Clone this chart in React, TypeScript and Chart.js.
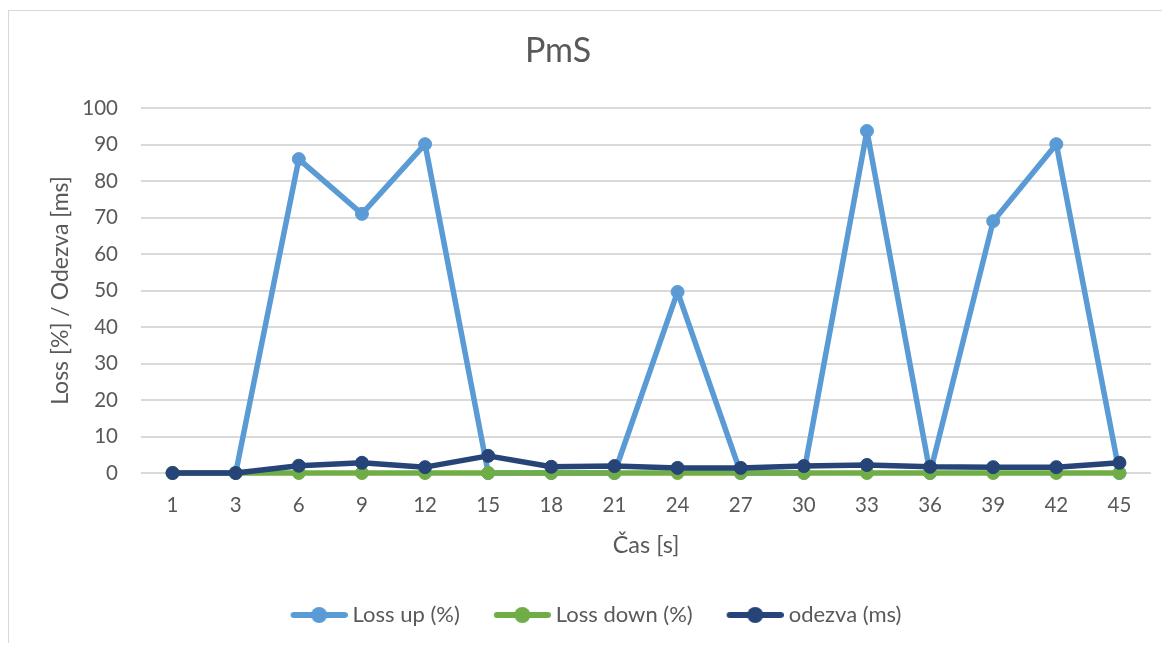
import React, { useEffect, useRef } from "react";
import { Chart, registerables } from "chart.js";

Chart.register(...registerables);

const categories = ["1", "3", "6", "9", "12", "15", "18", "21", "24", "27", "30", "33", "36", "39", "42", "45"];
const lossUp = [0, 0, 86.0, 71.0, 90.1, 0, 0, 0, 49.6, 0, 0, 93.7, 0, 69.0, 90.1, 0];
const lossDown = [0, 0, 0, 0, 0, 0, 0, 0, 0, 0, 0, 0, 0, 0, 0, 0];
const odezva = [0, 0, 2.0, 2.8, 1.6, 4.7, 1.7, 1.9, 1.4, 1.4, 1.9, 2.2, 1.7, 1.6, 1.6, 2.8];
const seriesNames = ["Loss up (%)", "Loss down (%)", "odezva (ms)"];
const seriesColors = ["#5B9BD5", "#70AD47", "#264478"];
const chartTitle = "PmS";
const xTitle = "Čas [s]";
const yTitle = "Loss [%] / Odezva [ms]";

const TEXT = "#595959";
const FONT = "Lato";

function legendIcon(color: string): HTMLCanvasElement {
  const c = document.createElement("canvas");
  c.width = 95;
  c.height = 20;
  const ctx = c.getContext("2d")!;
  ctx.strokeStyle = color;
  ctx.lineWidth = 6;
  ctx.lineCap = "round";
  ctx.beginPath();
  ctx.moveTo(41, 10);
  ctx.lineTo(92, 10);
  ctx.stroke();
  ctx.fillStyle = color;
  ctx.beginPath();
  ctx.arc(66.5, 10, 8, 0, Math.PI * 2);
  ctx.fill();
  return c;
}

const shiftPlugin = {
  id: "shiftTitle",
  afterLayout(chart: any) {
    const t = chart.titleBlock;
    if (t) {
      t.left -= 22;
      t.right -= 22;
    }
  },
};

export default function App() {
  const ref = useRef<HTMLCanvasElement | null>(null);

  useEffect(() => {
    document.documentElement.style.overflow = "hidden";
    const canvas = ref.current;
    if (!canvas) return;
    const icons = seriesColors.map((c) => legendIcon(c));
    const values = [lossUp, lossDown, odezva];
    const orders = [2, 1, 0];
    const chart = new Chart(canvas, {
      type: "line",
      plugins: [shiftPlugin],
      data: {
        labels: categories,
        datasets: values.map((v, i) => ({
          label: seriesNames[i],
          data: v,
          borderColor: seriesColors[i],
          backgroundColor: seriesColors[i],
          pointBackgroundColor: seriesColors[i],
          pointBorderColor: seriesColors[i],
          borderWidth: 5.5,
          pointRadius: 6.5,
          pointBorderWidth: 1,
          tension: 0,
          order: orders[i],
          clip: false as any,
          borderJoinStyle: "round" as const,
          borderCapStyle: "round" as const,
        })),
      },
      options: {
        responsive: false,
        animation: false,
        devicePixelRatio: 1,
        layout: { padding: { left: 0, right: 19, top: 0, bottom: 9 } },
        plugins: {
          tooltip: { enabled: false },
          title: {
            display: true,
            text: chartTitle,
            color: TEXT,
            font: { family: FONT, size: 34, weight: "normal" },
            padding: { top: 19.6, bottom: 36.6 },
          },
          legend: {
            display: true,
            position: "bottom",
            labels: {
              usePointStyle: true,
              pointStyleWidth: 83,
              padding: 2,
              color: TEXT,
              font: { family: FONT, size: 22 },
              generateLabels: (ch: any) =>
                ch.data.datasets.map((ds: any, i: number) => ({
                  text: ds.label,
                  fillStyle: ds.borderColor,
                  strokeStyle: ds.borderColor,
                  lineWidth: 0,
                  pointStyle: icons[i],
                  hidden: false,
                  datasetIndex: i,
                  fontColor: TEXT,
                })),
            },
          },
        },
        scales: {
          x: {
            type: "category",
            offset: true,
            grid: { display: false, drawTicks: false },
            border: { display: false },
            ticks: {
              color: TEXT,
              font: { family: FONT, size: 20.5 },
              padding: 20,
              maxRotation: 0,
              autoSkip: false,
            },
            title: {
              display: true,
              text: xTitle,
              color: TEXT,
              font: { family: FONT, size: 23.5 },
              padding: { top: 0, bottom: 42.5 },
            },
            afterFit: (s: any) => {
              s.height = 129;
            },
          },
          y: {
            min: 0,
            max: 100,
            grid: { color: "#d9d9d9", lineWidth: 2, drawTicks: false },
            border: { display: false },
            ticks: {
              stepSize: 10,
              color: TEXT,
              font: { family: FONT, size: 20.5 },
              padding: 23,
            },
            title: {
              display: true,
              text: yTitle,
              color: TEXT,
              font: { family: FONT, size: 23 },
              padding: { top: 38.2, bottom: 0 },
            },
            afterFit: (s: any) => {
              s.width = 132;
            },
          },
        },
      },
    });
    return () => chart.destroy();
  }, []);

  return (
    <div
      style={{
        position: "relative",
        top: 2,
        width: 1162,
        height: 635,
        borderLeft: "1px solid #d9d9d9",
        borderTop: "1px solid #d9d9d9",
        boxSizing: "border-box",
        background: "#fff",
      }}
    >
      <canvas ref={ref} width={1161} height={634} style={{ display: "block" }} />
    </div>
  );
}
